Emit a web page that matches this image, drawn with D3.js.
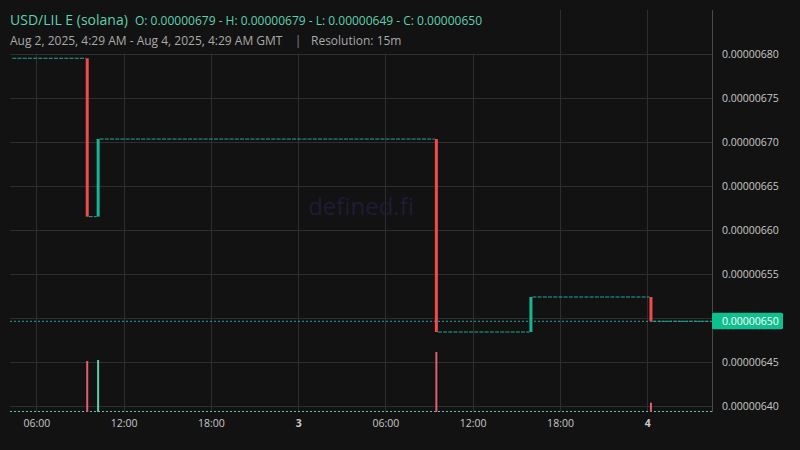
<!DOCTYPE html>
<html>
<head>
<meta charset="utf-8">
<script src="https://cdn.jsdelivr.net/npm/d3@7/dist/d3.min.js"></script>
<style>
  html, body { margin: 0; padding: 0; background: #121212; }
  svg { display: block; }
  text { font-family: "Open Sans", "Noto Sans", sans-serif; }
</style>
</head>
<body>
<svg id="chart" width="800" height="450"></svg>
<script>
// ---------- data ----------
const candleTimes = ["2025-08-02T09:30Z", "2025-08-02T10:15Z", "2025-08-03T09:30Z", "2025-08-03T16:00Z", "2025-08-04T00:15Z"];
const candleOpen  = [0.0000067955, 0.0000066155, 0.0000067037, 0.0000064844, 0.0000065242];
const candleHigh  = [0.0000067955, 0.0000067037, 0.0000067037, 0.0000065242, 0.0000065242];
const candleLow   = [0.0000066155, 0.0000066155, 0.0000064844, 0.0000064844, 0.0000064966];
const candleClose = [0.0000066155, 0.0000067037, 0.0000064844, 0.0000065242, 0.0000064966];
const candleVolume = [850, 867, 1000, 0, 155];

// flat (no trade) stretches between the moves: start, end, price
const flatStart = ["2025-08-02T04:15Z", "2025-08-02T09:30Z", "2025-08-02T10:15Z", "2025-08-03T09:30Z", "2025-08-03T16:00Z", "2025-08-04T00:15Z"];
const flatEnd   = ["2025-08-02T09:30Z", "2025-08-02T10:15Z", "2025-08-03T09:30Z", "2025-08-03T16:00Z", "2025-08-04T00:15Z", "2025-08-04T04:29Z"];
const flatPrice = [0.0000067955, 0.0000066155, 0.0000067037, 0.0000064844, 0.0000065242, 0.0000064966];

const lastPrice = 0.0000064966;
const lastPriceLabel = "0.00000650";

const yTicks = [0.00000640, 0.00000645, 0.00000650, 0.00000655, 0.00000660, 0.00000665, 0.00000670, 0.00000675, 0.00000680];
const xTicks = ["2025-08-02T06:00Z", "2025-08-02T12:00Z", "2025-08-02T18:00Z", "2025-08-03T00:00Z", "2025-08-03T06:00Z", "2025-08-03T12:00Z", "2025-08-03T18:00Z", "2025-08-04T00:00Z"];
const xTickLabels = ["06:00", "12:00", "18:00", "3", "06:00", "12:00", "18:00", "4"];

const titleText = "USD/LIL E (solana)";
const ohlcText = "O: 0.00000679 - H: 0.00000679 - L: 0.00000649 - C: 0.00000650";
const rangeText = "Aug 2, 2025, 4:29 AM - Aug 4, 2025, 4:29 AM GMT";
const resText = "Resolution: 15m";

// ---------- layout ----------
const plotLeft = 10, plotRight = 712, plotTop = 10, plotBottom = 412;
const up = "#16b596", down = "#ef4b4f", flatCol = "#26a69a";
const volUp = "#5ccfa6", volDown = "#e35d70";

const svg = d3.select("#chart");
svg.append("rect").attr("width", 800).attr("height", 450).attr("fill", "#121212");

const x = d3.scaleUtc()
  .domain([new Date("2025-08-02T06:00Z"), new Date("2025-08-04T00:00Z")])
  .range([36.3, 647.3]);
const y = d3.scaleLinear().domain([0.00000640, 0.00000680]).range([406.3, 54.3]);
const yVol = d3.scaleLinear().domain([0, 1000]).range([plotBottom, 352]);

const candles = candleTimes.map((t, i) => ({
  t: new Date(t), o: candleOpen[i], h: candleHigh[i], l: candleLow[i], c: candleClose[i], v: candleVolume[i]
}));
const flats = flatStart.map((s, i) => ({ s: new Date(s), e: new Date(flatEnd[i]), p: flatPrice[i] }));

// clip
svg.append("clipPath").attr("id", "plotClip").append("rect")
  .attr("x", plotLeft).attr("y", plotTop).attr("width", plotRight - plotLeft).attr("height", plotBottom - plotTop);

// grid
const grid = svg.append("g");
grid.selectAll("line.h").data(yTicks).join("line")
  .attr("x1", plotLeft).attr("x2", plotRight)
  .attr("y1", d => Math.round(y(d)) + 0.5).attr("y2", d => Math.round(y(d)) + 0.5)
  .attr("stroke", "#2e2e2e").attr("stroke-width", 1);
grid.selectAll("line.v").data(xTicks).join("line")
  .attr("x1", d => Math.round(x(new Date(d))) + 0.5).attr("x2", d => Math.round(x(new Date(d))) + 0.5)
  .attr("y1", plotTop).attr("y2", plotBottom)
  .attr("stroke", "#2e2e2e").attr("stroke-width", 1);

// watermark
svg.append("text").attr("x", 361).attr("y", 215).attr("text-anchor", "middle")
  .attr("font-size", 24).attr("fill", "#1f1c35").text("defined.fi");

const plot = svg.append("g").attr("clip-path", "url(#plotClip)");

// volume baseline (tiny volumes) and bars
plot.append("line").attr("x1", plotLeft).attr("x2", plotRight)
  .attr("y1", 411.5).attr("y2", 411.5)
  .attr("stroke", "#5fc4a8").attr("stroke-width", 1.2).attr("stroke-dasharray", "2,2");
plot.selectAll("rect.vol").data(candles.filter(d => d.v > 0)).join("rect")
  .attr("x", d => x(d.t) - 1).attr("width", 2)
  .attr("y", d => yVol(d.v)).attr("height", d => yVol(0) - yVol(d.v))
  .attr("fill", d => d.c >= d.o ? volUp : volDown);

// current price dotted line
plot.append("line").attr("x1", plotLeft).attr("x2", plotRight)
  .attr("y1", y(lastPrice)).attr("y2", y(lastPrice))
  .attr("stroke", flatCol).attr("stroke-width", 1).attr("stroke-dasharray", "2,2");

// flat stretches
plot.selectAll("line.flat").data(flats).join("line")
  .attr("x1", d => x(d.s) + 1.5).attr("x2", d => x(d.e) - 1.5)
  .attr("y1", d => y(d.p)).attr("y2", d => y(d.p))
  .attr("stroke", flatCol).attr("stroke-width", 1).attr("stroke-dasharray", "4,1.2");

// candles
plot.selectAll("rect.candle").data(candles).join("rect")
  .attr("x", d => x(d.t) - 1.5).attr("width", 3)
  .attr("y", d => y(d.h)).attr("height", d => Math.max(1, y(d.l) - y(d.h)))
  .attr("fill", d => d.c >= d.o ? up : down);

// right axis
svg.append("line").attr("x1", plotRight + 0.5).attr("x2", plotRight + 0.5)
  .attr("y1", plotTop).attr("y2", plotBottom)
  .attr("stroke", "#4a4a4a").attr("stroke-width", 1);
// tick label hidden where the last-price label covers it
const shownYTicks = yTicks.filter(d => Math.abs(y(d) - y(lastPrice)) > 12);
const yAxis = svg.append("g").attr("transform", `translate(${plotRight},0)`)
  .call(d3.axisRight(y).tickValues(shownYTicks).tickSize(0).tickPadding(10).tickFormat(d => d.toFixed(8)));
yAxis.select(".domain").remove();
yAxis.selectAll("text").attr("fill", "#c8c8c8").attr("font-size", 10.5)
  .attr("font-family", "'Open Sans', 'Noto Sans', sans-serif");

// last price label
const lp = svg.append("g");
lp.append("rect").attr("x", plotRight).attr("y", y(lastPrice) - 8.5).attr("width", 71).attr("height", 16.5)
  .attr("rx", 1.5).attr("fill", "#0fc08f");
lp.append("text").attr("x", plotRight + 10).attr("y", y(lastPrice)).attr("dy", "0.35em")
  .attr("font-size", 10.5).attr("fill", "#ffffff").text(lastPriceLabel);

// bottom axis
const xAxis = svg.append("g").attr("transform", `translate(0,${plotBottom})`)
  .call(d3.axisBottom(x).tickValues(xTicks.map(d => new Date(d))).tickSize(0).tickPadding(8)
    .tickFormat((d, i) => xTickLabels[i]));
xAxis.select(".domain").remove();
xAxis.selectAll("text").attr("fill", "#c8c8c8").attr("font-size", 10.5)
  .attr("font-family", "'Open Sans', 'Noto Sans', sans-serif")
  .attr("font-weight", (d, i) => /^\d$/.test(xTickLabels[i]) ? "bold" : "normal");

// legend
svg.append("rect").attr("x", plotLeft).attr("y", plotTop).attr("width", 478).attr("height", 43.5).attr("fill", "#121212");
svg.append("text").attr("x", 10).attr("y", 25).attr("font-size", 14).attr("fill", "#5fd0b0").text(titleText);
svg.append("text").attr("x", 135).attr("y", 25).attr("font-size", 12).attr("fill", "#5fd0b0").text(ohlcText);
svg.append("text").attr("x", 10).attr("y", 45).attr("font-size", 12).attr("fill", "#a9a9a9").text(rangeText);
svg.append("text").attr("x", 298).attr("y", 45).attr("text-anchor", "middle").attr("font-size", 12).attr("fill", "#8a8a8a").text("|");
svg.append("text").attr("x", 311).attr("y", 45).attr("font-size", 12).attr("fill", "#a9a9a9").text(resText);
</script>
</body>
</html>
